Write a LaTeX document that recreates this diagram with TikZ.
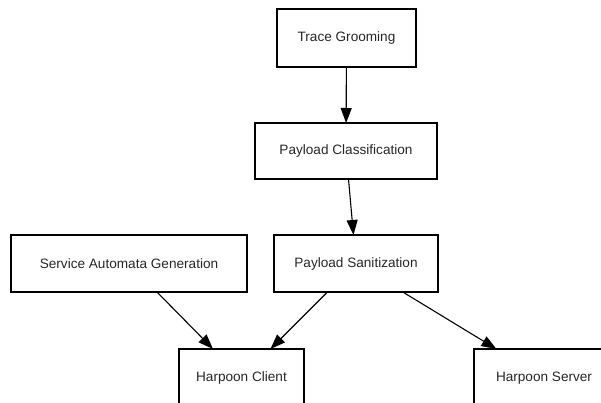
\documentclass[tikz,border=0pt]{standalone}
\usepackage{fontspec}
\setmainfont{Liberation Sans}
\usetikzlibrary{arrows.meta}
\begin{document}
\begin{tikzpicture}[x=1pt,y=-1pt,
  box/.style={draw=black,line width=1.1pt,rectangle,inner sep=0pt,outer sep=0pt,
    font=\fontsize{13.6}{16}\selectfont,text=black!85},
  arr/.style={draw=black,line width=1.1pt,-{Triangle[length=15pt,width=11pt]}}]
\useasboundingbox (0,0) rectangle (601,403);
\clip (0,0) rectangle (601,403);
\node[box,minimum width=139pt,minimum height=58pt] (tg) at (346.5,38) {Trace Grooming};
\node[box,minimum width=182pt,minimum height=56pt] (pc) at (346,151) {Payload Classification};
\node[box,minimum width=164pt,minimum height=57pt] (ps) at (356,263.5) {Payload Sanitization};
\node[box,minimum width=236pt,minimum height=57pt] (sag) at (129,263.5) {Service Automata Generation};
\node[box,minimum width=125pt,minimum height=58pt] (hc) at (241.5,378) {Harpoon Client};
\node[box,minimum width=140pt,minimum height=58pt] (hs) at (544,378) {Harpoon Server};
\draw[arr] (tg) -- (pc);
\draw[arr] (pc) -- (ps);
\draw[arr] (sag) -- (hc);
\draw[arr] (ps) -- (hc);
\draw[arr] (ps) -- (hs);
\end{tikzpicture}
\end{document}
